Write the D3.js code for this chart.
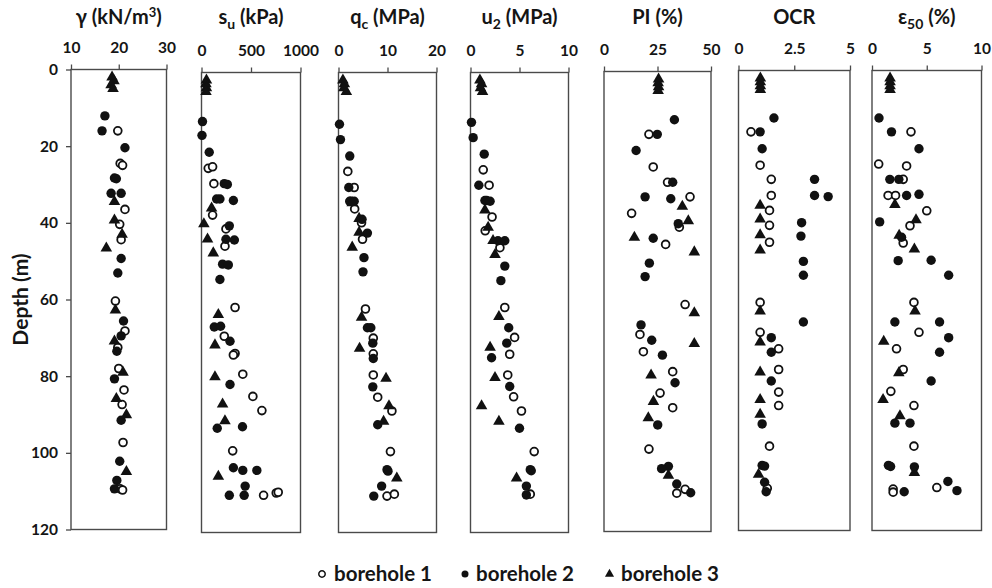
<!DOCTYPE html>
<html>
<head>
<meta charset="utf-8">
<script src="https://cdn.jsdelivr.net/npm/d3@7"></script>
<style>
  body { margin: 0; background: #fff; }
  svg text { font-family: Lato, "Open Sans", sans-serif; font-weight: 700; fill: #151515; }
</style>
</head>
<body>
<svg id="chart" width="992" height="588"></svg>
<script>
// ---- data: [depth (m), value] per borehole and parameter ----
const depthTicks = [0, 20, 40, 60, 80, 100, 120];
const boreholeNames = ["borehole 1", "borehole 2", "borehole 3"];

// unit weight γ (kN/m³)
const gammaTicks = [10, 20, 30];
const gammaBH1 = [[16,19.8],[24.5,20.3],[25,20.8],[36.5,21.3],[40.4,20.2],[44.4,20.5],[60.4,19.3],[68.2,21.3],[72.5,19.8],[78,20],[83.6,21.1],[87.4,20.7],[97.3,20.9],[109.4,20.3],[109.7,20.8]];
const gammaBH2 = [[12.1,17.1],[16,16.5],[20.4,21.3],[28.3,19.1],[28.5,19.5],[32.3,18.4],[32.3,20.5],[49.3,20.5],[53.1,19.8],[65.6,21],[69.5,20.5],[73.5,19.6],[80.7,19.1],[91.5,20.5],[102.2,20.2],[107.2,19.6],[109.4,19.1]];
const gammaBH3 = [[2,18.6],[3,19],[4,18.4],[5,18.8],[34.5,19.1],[39.3,19.1],[43,20.7],[46.6,17.4],[62.8,19.3],[70.9,19.1],[79,20.9],[85.9,19.5],[90.1,21.6],[104.9,21.6]];

// undrained shear strength s_u (kPa)
const suTicks = [0, 500, 1000];
const suBH1 = [[25,68],[24.6,112],[29,125],[37.2,112],[40.8,247],[45.3,237],[61.3,339],[68.8,230],[73.3,339],[73.7,322],[78.7,417],[84.5,519],[88.2,610],[98.7,315],[110.3,627],[109.7,755],[109.5,775]];
const suBH2 = [[12.8,10],[16.4,5],[20.8,78],[29,230],[29.2,261],[33,153],[33,186],[33.4,322],[40,281],[43.5,247],[43.7,332],[50,213],[50.2,271],[54,186],[66.4,129],[66.2,193],[70.1,288],[81.4,288],[92.4,414],[92.8,159],[103.1,322],[103.8,417],[103.8,559],[107.9,441],[110.3,281],[110.3,431]];
const suBH3 = [[2,50],[3,45],[4,50],[5,45],[35.4,102],[39.5,24],[43.5,61],[47.1,119],[63.2,170],[71.1,136],[79.4,136],[86.5,213],[90.9,237],[105.4,170]];

// cone resistance q_c (MPa)
const qcTicks = [0, 10, 20];
const qcBH1 = [[25.8,1.9],[30,3.2],[33.6,2.3],[35.6,3.3],[39.2,4.7],[43.5,4.9],[61.7,5.5],[69.3,7.1],[73.4,7.1],[78.9,7.1],[84.7,8.0],[88.3,10.9],[98.9,10.6],[110.5,9.9],[110,11.4]];
const qcBH2 = [[13.5,0.2],[17.5,0.4],[21.8,2.3],[30,2.1],[33.6,2.5],[33.6,3.2],[38.3,4.8],[41.9,5.9],[48.3,5.2],[52,5.0],[66.6,5.9],[66.6,6.6],[70.6,7.0],[74.6,7.1],[82,7.0],[91.9,8.0],[103.6,9.9],[104,10.1],[107.9,8.8],[110.5,7.2]];
const qcBH3 = [[2,0.9],[3,1.2],[4,1.1],[5,1.6],[34,2.8],[38.1,4.2],[41.7,4.2],[45.6,2.8],[63.9,4.7],[72,4.3],[79.8,9.7],[87,10.3],[91,9.2],[105.8,11.9]];

// pore pressure u_2 (MPa)
const u2Ticks = [0, 5, 10];
const u2BH1 = [[25.4,1.3],[29.4,1.9],[33.4,1.65],[37.7,2.2],[41.3,1.5],[45.7,3.0],[61.3,3.5],[69.1,4.5],[73.5,4.0],[78.9,3.8],[84.6,4.4],[88.3,5.2],[98.9,6.5],[110,6.1]];
const u2BH2 = [[13,0.1],[17,0.27],[21.3,1.4],[29.4,0.85],[33.4,1.47],[33.6,2.0],[43.9,2.8],[43.9,3.5],[50.5,3.5],[54.3,3.1],[66.6,3.9],[70.6,3.7],[74.4,2.15],[81.9,4.0],[92.8,5.0],[103.6,6.1],[103.9,6.2],[107.9,5.7],[110.2,5.7]];
const u2BH3 = [[2,0.96],[3,1.13],[4,1.02],[5,1.23],[35.9,1.47],[40.4,1.8],[43.9,2.3],[47.5,2.5],[63.7,2.9],[71.7,2.0],[79.6,2.5],[87,1.13],[91,2.9],[105.8,4.7]];

// plasticity index PI (%)
const piTicks = [0, 25, 50];
const piBH1 = [[16.4,21],[24.9,23],[28.9,29.7],[32.7,40.2],[37,12.9],[40.6,35.2],[45.1,28.8],[60.8,37.9],[68.6,16.8],[73.1,18.4],[78.3,32.1],[83.9,26.2],[87.7,32.1],[98.5,21],[109,37.9],[110,34]];
const piBH2 = [[12.6,32.9],[16.4,24.9],[20.6,15],[28.9,32.1],[32.7,19.2],[33.2,31.2],[39.7,34.7],[43.5,23],[50,21.2],[53.5,19.2],[66.1,17.3],[70.1,22.3],[74,27.3],[81.2,33.2],[92.2,25.1],[103,30.1],[103.6,26.9],[107.6,34],[109.9,40.5]];
const piBH3 = [[2,25.5],[3,25.3],[4,25.5],[5,25.3],[35.2,36.6],[39,39.4],[43.3,14.2],[47.1,42.2],[63,42.2],[71,42.2],[79.2,22],[86.1,23.1],[90.4,20.7],[105.4,30.1]];

// overconsolidation ratio OCR
const ocrTicks = [0, 2.5, 5];
const ocrBH1 = [[16,0.56],[24.7,0.97],[28.4,1.47],[32.6,1.47],[36.5,1.39],[40.4,1.39],[44.8,1.39],[60.5,0.97],[68.3,0.97],[72.6,1.8],[78,1.8],[83.9,1.8],[87.4,1.8],[98,1.39],[109,1.29]];
const ocrBH2 = [[12.4,1.59],[16,0.97],[20.4,1.06],[28.4,3.41],[32.6,3.41],[32.9,4.02],[39.7,2.83],[43.2,2.8],[49.8,2.91],[53.4,2.91],[65.6,2.91],[69.7,1.47],[73.5,1.47],[81,1.47],[92.2,1.06],[103,1.06],[103.2,1.17],[107.4,1.17],[109.9,1.24]];
const ocrBH3 = [[2,0.98],[3,0.98],[4,0.98],[5,0.98],[35.2,0.97],[38.8,0.97],[42.9,0.97],[46.9,0.97],[62.8,0.97],[70.9,0.97],[78.7,0.97],[85.9,0.97],[89.7,0.97],[105.4,0.9]];

// strain at 50 % of peak stress ε50 (%)
const epsTicks = [0, 5, 10];
const epsBH1 = [[16,3.56],[24.4,0.61],[24.9,3.16],[28.4,2.85],[32.6,1.47],[32.6,2.15],[36.6,5.0],[40.5,3.47],[45,2.85],[60.5,3.83],[68.3,4.29],[72.6,2.24],[78,2.85],[83.7,1.72],[87.4,3.83],[98,3.83],[108.8,5.92],[109.2,1.93],[110,1.93]];
const epsBH2 = [[12.4,0.64],[16,1.78],[20.4,4.29],[28.4,1.63],[28.4,2.45],[32.6,3.16],[32.3,4.29],[39.5,0.7],[43.5,2.7],[49.6,2.39],[49.5,5.4],[53.4,7.0],[65.6,2.09],[65.6,6.17],[69.7,7.0],[73.5,6.17],[81,5.4],[92,2.09],[92,3.47],[103,1.5],[103.3,1.7],[103.4,3.87],[107.2,6.93],[109.9,2.94],[109.6,7.76]];
const epsBH3 = [[2,1.65],[3,1.65],[4,1.65],[5,1.65],[35,2.09],[39,4.02],[43,2.48],[46.6,3.87],[62.8,3.93],[70.7,1.07],[78.9,2.45],[85.9,1.01],[90.1,2.55],[104.9,3.87]];

// ---- layout of the seven profile panels ----
// title parts: [text, role] where role is "" | "sub" | "sup"
const panels = [
  { title: [["γ (kN/m",""],["3","sup"],[")",""]], ticks: gammaTicks, series: [gammaBH1, gammaBH2, gammaBH3], x0: 71,    x1: 166.5, top: 69.5 },
  { title: [["s",""],["u","sub"],[" (kPa)",""]],  ticks: suTicks,    series: [suBH1, suBH2, suBH3],          x0: 201.5, x1: 300.5, top: 72.5 },
  { title: [["q",""],["c","sub"],[" (MPa)",""]],  ticks: qcTicks,    series: [qcBH1, qcBH2, qcBH3],          x0: 338.5, x1: 436.5, top: 72.5 },
  { title: [["u",""],["2","sub"],[" (MPa)",""]],  ticks: u2Ticks,    series: [u2BH1, u2BH2, u2BH3],          x0: 470.5, x1: 568.5, top: 72.5 },
  { title: [["PI (%)",""]],                        ticks: piTicks,    series: [piBH1, piBH2, piBH3],          x0: 604,   x1: 711,   top: 71.5 },
  { title: [["OCR",""]],                           ticks: ocrTicks,   series: [ocrBH1, ocrBH2, ocrBH3],       x0: 738.5, x1: 850,   top: 70.5 },
  { title: [["ε",""],["50","sub"],[" (%)",""]],   ticks: epsTicks,   series: [epsBH1, epsBH2, epsBH3],       x0: 872,   x1: 981.5, top: 70.5 }
];
const panelHeight = 460;
const ink = "#111";
const frame = "#4a4a4a";

const svg = d3.select("#chart");

const triangle = d3.symbol().type(d3.symbolTriangle).size(58);
const legendTriangle = d3.symbol().type(d3.symbolTriangle).size(36);

function drawMarker(sel, k) {
  if (k === 0) {
    sel.append("circle").attr("r", 3.9).attr("fill", "#fff").attr("stroke", ink).attr("stroke-width", 1.8);
  } else if (k === 1) {
    sel.append("circle").attr("r", 4.7).attr("fill", ink);
  } else {
    sel.append("path").attr("d", triangle()).attr("fill", ink);
  }
}

function styleAxisText(g, size) {
  g.attr("font-family", null).attr("font-size", null).attr("color", frame);
  g.selectAll("text").style("font-size", size + "px").style("fill", "#151515");
  g.selectAll("line").attr("stroke-width", 1.3);
  g.select(".domain").remove();
}

panels.forEach((p, i) => {
  const x = d3.scaleLinear().domain([p.ticks[0], p.ticks[p.ticks.length - 1]]).range([p.x0, p.x1]);
  const y = d3.scaleLinear().domain([0, 120]).range([p.top, p.top + panelHeight]);
  const g = svg.append("g");

  // frame
  g.append("rect")
    .attr("x", p.x0).attr("y", p.top)
    .attr("width", p.x1 - p.x0).attr("height", panelHeight)
    .attr("fill", "none").attr("stroke", frame).attr("stroke-width", 1.4);

  // top value axis
  const xa = g.append("g").attr("transform", `translate(0,${p.top})`)
    .call(d3.axisTop(x).tickValues(p.ticks).tickSize(5).tickPadding(12).tickFormat(d3.format("")));
  styleAxisText(xa, 15.5);

  // depth axis on the first panel only
  if (i === 0) {
    const ya = g.append("g").attr("transform", `translate(${p.x0},0)`)
      .call(d3.axisLeft(y).tickValues(depthTicks).tickSize(5).tickPadding(8));
    styleAxisText(ya, 15.5);
    g.append("text")
      .attr("transform", `translate(28,${p.top + panelHeight / 2}) rotate(-90)`)
      .attr("text-anchor", "middle")
      .style("font-size", "21px")
      .text("Depth (m)");
  }

  // panel title
  const t = g.append("text")
    .attr("x", (p.x0 + p.x1) / 2).attr("y", 24)
    .attr("text-anchor", "middle")
    .style("font-size", "20px");
  p.title.forEach(([txt, role], j) => {
    const s = t.append("tspan").text(txt);
    if (role === "sub") s.attr("dy", 5).style("font-size", "14px");
    else if (role === "sup") s.attr("dy", -7).style("font-size", "13px");
    else if (j > 0 && p.title[j - 1][1] === "sub") s.attr("dy", -5);
    else if (j > 0 && p.title[j - 1][1] === "sup") s.attr("dy", 7);
  });

  // data points, borehole 1 first so later holes draw on top
  p.series.forEach((data, k) => {
    g.append("g").selectAll("g").data(data).join("g")
      .attr("transform", d => `translate(${x(d[1])},${y(d[0])})`)
      .each(function () { drawMarker(d3.select(this), k); });
  });
});

// legend
const legendItems = [
  { name: boreholeNames[0], mx: 322,   tx: 334 },
  { name: boreholeNames[1], mx: 465,   tx: 476 },
  { name: boreholeNames[2], mx: 609.5, tx: 621 }
];
const legendY = 574;
legendItems.forEach((it, k) => {
  const m = svg.append("g").attr("transform", `translate(${it.mx},${legendY})`);
  if (k === 0) m.append("circle").attr("r", 3.2).attr("fill", "#fff").attr("stroke", ink).attr("stroke-width", 1.5);
  else if (k === 1) m.append("circle").attr("r", 3.5).attr("fill", ink);
  else m.append("path").attr("d", legendTriangle()).attr("fill", ink);
  svg.append("text").attr("x", it.tx).attr("y", legendY + 7)
    .style("font-size", "20.5px").text(it.name);
});
</script>
</body>
</html>
